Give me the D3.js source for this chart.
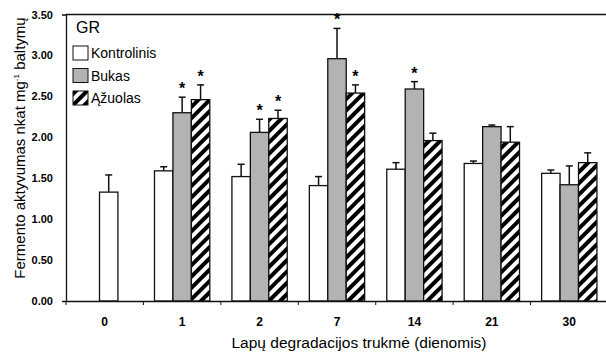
<!doctype html>
<html>
<head>
<meta charset="UTF-8">
<script src="https://d3js.org/d3.v7.min.js"></script>
<style>
  body { margin: 0; background: #fff; }
  text { font-family: "Liberation Sans", Arial, sans-serif; fill: #000; }
</style>
</head>
<body>
<svg width="606" height="357"></svg>
<script>
// data
var days = ["0", "1", "2", "7", "14", "21", "30"];
var series = ["Kontrolinis", "Bukas", "Ąžuolas"];
var kontrolinis    = [1.33, 1.59, 1.52, 1.41, 1.61, 1.68, 1.56];
var kontrolinisErr = [1.54, 1.64, 1.67, 1.52, 1.69, 1.71, 1.60];
var bukas          = [0,    2.30, 2.06, 2.96, 2.59, 2.13, 1.42];
var bukasErr       = [0,    2.49, 2.22, 3.33, 2.68, 2.15, 1.65];
var azuolas        = [0,    2.46, 2.23, 2.54, 1.96, 1.94, 1.69];
var azuolasErr     = [0,    2.64, 2.33, 2.64, 2.05, 2.13, 1.81];
var bukasStar      = [0, 1, 1, 1, 1, 0, 0];
var azuolasStar    = [0, 1, 1, 1, 0, 0, 0];
var yTicks = [0, 0.5, 1, 1.5, 2, 2.5, 3, 3.5];

var svg = d3.select("svg");
var margin = {left: 66, top: 14.5, right: -2, bottom: 56};
var width = 606 - margin.left - margin.right;
var height = 357 - margin.top - margin.bottom;

var defs = svg.append("defs");
var pat = defs.append("pattern")
    .attr("id", "hatch")
    .attr("patternUnits", "userSpaceOnUse")
    .attr("width", 8).attr("height", 8)
    .attr("patternTransform", "rotate(45)");
pat.append("rect").attr("width", 8).attr("height", 8).attr("fill", "#fff");
pat.append("rect").attr("width", 4).attr("height", 8).attr("fill", "#000");

var fills = {"Kontrolinis": "#fff", "Bukas": "#b3b3b3", "Ąžuolas": "url(#hatch)"};

var x0 = d3.scaleBand().domain(days).range([0, width]).paddingInner(0).paddingOuter(0);
var x1 = d3.scaleBand().domain(series).range([0, x0.bandwidth()]).paddingInner(0).paddingOuter(0.6);
var y = d3.scaleLinear().domain([0, 3.5]).range([height, 0]);

var g = svg.append("g").attr("transform", "translate(" + margin.left + "," + margin.top + ")");

// rows for drawing
var rows = [];
days.forEach(function(d, i) {
  rows.push({day: d, s: "Kontrolinis", v: kontrolinis[i], e: kontrolinisErr[i], star: 0});
  rows.push({day: d, s: "Bukas", v: bukas[i], e: bukasErr[i], star: bukasStar[i]});
  rows.push({day: d, s: "Ąžuolas", v: azuolas[i], e: azuolasErr[i], star: azuolasStar[i]});
});
// day 0 only has the control measured: centre it in its group
function barX(r) {
  if (r.day === "0") return x0(r.day) + x0.bandwidth() / 2 - x1.bandwidth() / 2 + 4;
  return x0(r.day) + x1(r.s);
}
var drawn = rows.filter(function(r) { return r.v > 0; });

g.selectAll(".bar").data(drawn).enter().append("rect")
  .attr("class", "bar")
  .attr("x", barX)
  .attr("y", function(r) { return y(r.v); })
  .attr("width", x1.bandwidth())
  .attr("height", function(r) { return y(0) - y(r.v); })
  .attr("fill", function(r) { return fills[r.s]; })
  .attr("stroke", "#111").attr("stroke-width", 1.3);

// error bars (upper only)
var eb = g.selectAll(".err").data(drawn).enter().append("g");
eb.append("line")
  .attr("x1", function(r) { return barX(r) + x1.bandwidth() / 2; })
  .attr("x2", function(r) { return barX(r) + x1.bandwidth() / 2; })
  .attr("y1", function(r) { return y(r.v); })
  .attr("y2", function(r) { return y(r.e); })
  .attr("stroke", "#111").attr("stroke-width", 1.5);
eb.append("line")
  .attr("x1", function(r) { return barX(r) + x1.bandwidth() / 2 - 3.5; })
  .attr("x2", function(r) { return barX(r) + x1.bandwidth() / 2 + 3.5; })
  .attr("y1", function(r) { return y(r.e); })
  .attr("y2", function(r) { return y(r.e); })
  .attr("stroke", "#111").attr("stroke-width", 1.5);

// significance stars
g.selectAll(".star").data(rows.filter(function(r) { return r.star; })).enter().append("text")
  .attr("x", function(r) { return barX(r) + x1.bandwidth() / 2; })
  .attr("y", function(r) { return y(r.e) - 3; })
  .attr("text-anchor", "middle")
  .style("font-size", "16px").style("font-weight", "bold")
  .text("*");

// axes
var yAxis = g.append("g").call(d3.axisLeft(y).tickValues(yTicks).tickSize(4)
    .tickFormat(d3.format(".2f")));
yAxis.select(".domain").attr("stroke", "#111").attr("stroke-width", 1.3);
yAxis.selectAll(".tick line").attr("x2", 1).attr("stroke", "#111");
yAxis.selectAll("text").attr("x", -13).style("font-size", "11px").style("font-weight", "bold")
  .style("font-family", "Liberation Sans, Arial, sans-serif");

var xAxis = g.append("g").attr("transform", "translate(0," + height + ")")
  .call(d3.axisBottom(x0).tickSize(0).tickPadding(16));
xAxis.select(".domain").attr("stroke", "#111").attr("stroke-width", 1.3);
xAxis.selectAll("text").style("font-size", "12px").style("font-weight", "bold")
  .style("font-family", "Liberation Sans, Arial, sans-serif");
// group boundary ticks
g.append("g").selectAll("line").data(days).enter().append("line")
  .attr("x1", function(d) { return x0(d); })
  .attr("x2", function(d) { return x0(d); })
  .attr("y1", height).attr("y2", height + 4)
  .attr("stroke", "#111");

// top frame
g.append("line").attr("x1", 0).attr("x2", width).attr("y1", 0).attr("y2", 0)
  .attr("stroke", "#111").attr("stroke-width", 1.3);

// axis titles
svg.append("text")
  .attr("x", 359).attr("y", 348)
  .attr("text-anchor", "middle")
  .style("font-size", "15.5px")
  .text("Lapų degradacijos trukmė (dienomis)");

var yt = svg.append("text")
  .attr("transform", "translate(25,148) rotate(-90)")
  .attr("text-anchor", "middle")
  .style("font-size", "15px");
yt.append("tspan").text("Fermento aktyvumas nkat mg");
yt.append("tspan").attr("dy", -6).style("font-size", "8px").text("-1");
yt.append("tspan").attr("dy", 6).text(" baltymų");

// legend
svg.append("text").attr("x", 76).attr("y", 33).style("font-size", "16px").text("GR");
var leg = svg.append("g").selectAll("g").data(series).enter().append("g")
  .attr("transform", function(d, i) { return "translate(73," + (46 + i * 22.5) + ")"; });
leg.append("rect").attr("width", 15).attr("height", 14)
  .attr("fill", function(d) { return fills[d]; })
  .attr("stroke", "#111").attr("stroke-width", 1);
leg.append("text").attr("x", 18).attr("y", 12).style("font-size", "14px")
  .text(function(d) { return d; });
</script>
</body>
</html>
